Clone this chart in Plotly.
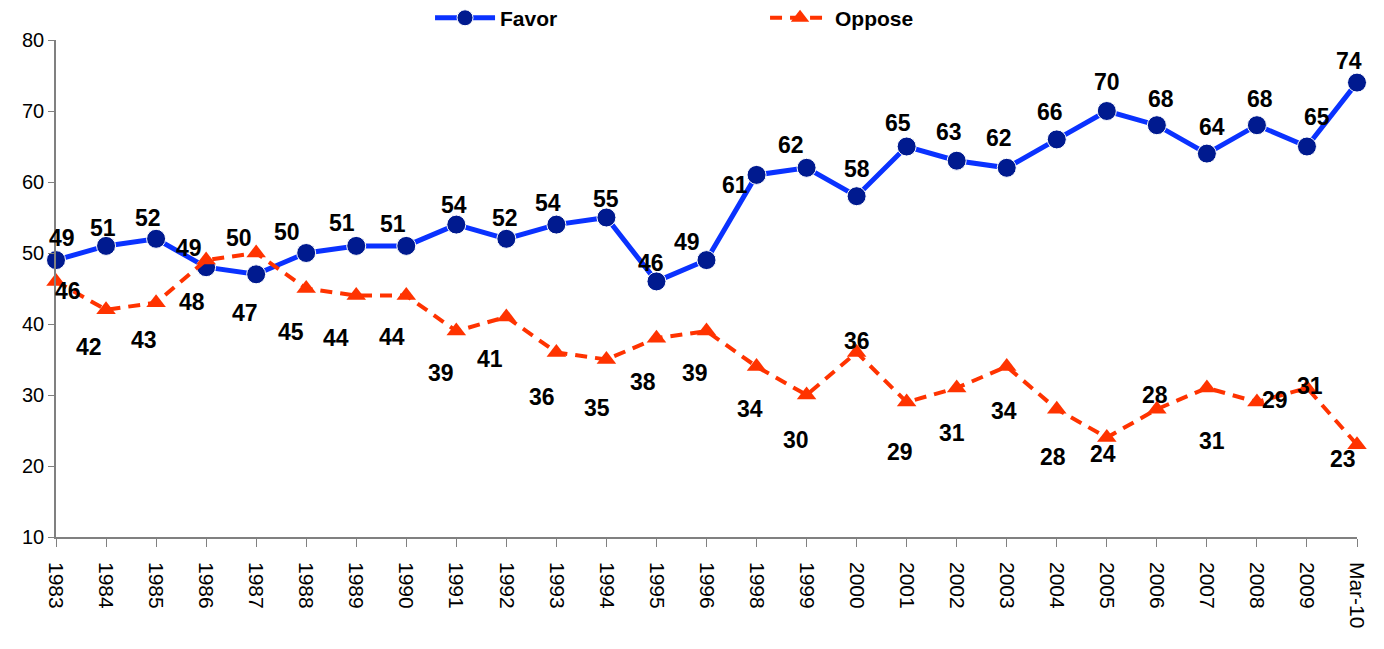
import plotly.graph_objects as go

categories = ["1983", "1984", "1985", "1986", "1987", "1988", "1989", "1990", "1991",
              "1992", "1993", "1994", "1995", "1996", "1998", "1999", "2000", "2001",
              "2002", "2003", "2004", "2005", "2006", "2007", "2008", "2009", "Mar-10"]
favor = [49, 51, 52, 48, 47, 50, 51, 51, 54, 52, 54, 55, 46, 49, 61, 62, 58, 65,
         63, 62, 66, 70, 68, 64, 68, 65, 74]
oppose = [46, 42, 43, 49, 50, 45, 44, 44, 39, 41, 36, 35, 38, 39, 34, 30, 36, 29,
          31, 34, 28, 24, 28, 31, 29, 31, 23]
y_ticks = [10, 20, 30, 40, 50, 60, 70, 80]

# label offsets in pixels (style only)
favor_off = [(6, -22), (-3, -18), (-8, -21), (-14, 35), (-11, 39), (-19, -21), (-14, -23),
             (-13, -22), (-2, -20), (-1, -21), (-8, -22), (0, -19), (-5, -18), (-20, -18),
             (-22, 10), (-16, -23), (0, -27), (-9, -24), (-8, -29), (-8, -30), (-7, -27),
             (0, -29), (4, -26), (5, -27), (3, -26), (10, -30), (-8, -22)]
oppose_off = [(12, 10), (-17, 37), (-12, 37), (-17, -12), (-17, -15), (-15, 43), (-20, 42),
              (-14, 41), (-15, 42), (-16, 42), (-14, 45), (-9, 48), (-13, 44), (-12, 42),
              (-7, 42), (-11, 45), (0, -11), (-7, 50), (-5, 45), (-3, 44), (-4, 48),
              (-4, 16), (-2, -14), (5, 53), (18, -2), (3, -2), (-14, 14)]

FONT = "Liberation Sans, Arial, sans-serif"

fig = go.Figure()
fig.add_trace(go.Scatter(
    x=categories, y=favor, name="Favor", mode="lines+markers",
    line=dict(color="#0A32FF", width=5),
    marker=dict(symbol="circle", size=19, color="#001A8F", line=dict(color="white", width=1)),
    cliponaxis=False,
))
fig.add_trace(go.Scatter(
    x=categories, y=oppose, name="Oppose", mode="lines+markers",
    line=dict(color="#FF3300", width=4, dash="12px,8px"),
    marker=dict(symbol="triangle-up", size=17, color="#FF3300"),
    cliponaxis=False,
))

annotations = []
for series, offs in ((favor, favor_off), (oppose, oppose_off)):
    for i, (v, (dx, dy)) in enumerate(zip(series, offs)):
        annotations.append(dict(
            x=i, y=v, xref="x", yref="y", text=str(v), showarrow=False,
            xshift=dx, yshift=-dy,
            font=dict(family=FONT, size=23, color="black", weight="bold"),
        ))

fig.update_layout(
    width=1376, height=641,
    margin=dict(l=48, r=27, t=32, b=112, autoexpand=False),
    plot_bgcolor="white", paper_bgcolor="white",
    font=dict(family=FONT, color="black"),
    annotations=annotations,
    showlegend=True,
    legend=dict(
        orientation="h", x=0.2875, xanchor="left",
        yref="paper", y=1.044, yanchor="middle",
        itemwidth=60, entrywidth=260, entrywidthmode="pixels",
        font=dict(size=21, family=FONT, weight="bold"),
        bgcolor="rgba(0,0,0,0)", borderwidth=0,
    ),
    xaxis=dict(
        type="category", range=[0, len(categories) - 1],
        showline=True, linecolor="#808080", linewidth=1.5,
        ticks="outside", ticklen=8, tickcolor="#808080",
        tickangle=90, tickfont=dict(size=21), showgrid=False, zeroline=False,
        ticklabelstandoff=11,
    ),
    yaxis=dict(
        range=[10, 80], tickvals=y_ticks, showline=True, linecolor="#808080", linewidth=1.5,
        ticks="outside", ticklen=6, tickcolor="#808080", tickfont=dict(size=20),
        showgrid=False, zeroline=False,
    ),
)

fig.write_html("out.html")
